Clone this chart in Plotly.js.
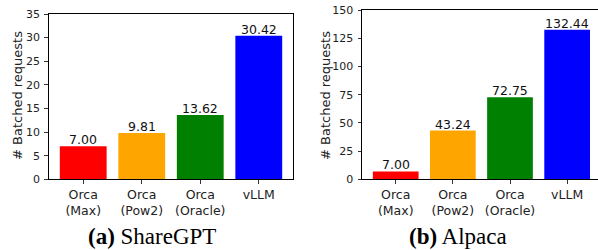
<!DOCTYPE html>
<html><head><meta charset="utf-8">
<script src="https://cdn.plot.ly/plotly-3.0.1.min.js"></script>
<style>html,body{margin:0;padding:0;background:#fff;}</style>
</head><body>
<div id="chart" style="width:598px;height:250px;"></div>
<script>
const categories = ["Orca<br>(Max)", "Orca<br>(Pow2)", "Orca<br>(Oracle)", "vLLM"];
const barColors = ["#ff0000", "#ffa500", "#008000", "#0000ff"];
const shareGPT = [7.00, 9.81, 13.62, 30.42];
const alpaca = [7.00, 43.24, 72.75, 132.44];
const leftTicks = [0, 5, 10, 15, 20, 25, 30, 35];
const rightTicks = [0, 25, 50, 75, 100, 125, 150];
const captions = ["<b>(a)</b> ShareGPT", "<b>(b)</b> Alpaca"];
const yTitle = "# Batched requests";

const font = "DejaVu Sans";
function bars(vals, xa, ya) {
  return {
    type: "bar", x: [0,1,2,3], y: vals, width: 0.8,
    marker: {color: barColors, line: {width: 0}},
    xaxis: xa, yaxis: ya, hoverinfo: "none"
  };
}
function labels(vals, xa, ya) {
  return vals.map((v, i) => ({
    text: v.toFixed(2), x: i, y: v, xref: xa, yref: ya, xanchor: "center", yanchor: "bottom",
    yshift: -3, showarrow: false, font: {family: font, size: 12.5, color: "#111"}
  }));
}
function xax(domain, range) {
  return {domain: domain, range: range, tickmode: "array", tickvals: [0,1,2,3], ticktext: categories,
    ticks: "outside", ticklen: 3.5, tickwidth: 0.8, tickcolor: "#000",
    showline: true, linecolor: "#000", linewidth: 1, mirror: true, showgrid: false, zeroline: false,
    tickfont: {family: font, size: 12.5, color: "#222"}, fixedrange: true};
}
function yax(domain, range, ticks, anchor) {
  return {domain: domain, range: range, tickmode: "array", tickvals: ticks, ticktext: ticks.map(String),
    ticks: "outside", ticklen: 3.5, tickwidth: 0.8, tickcolor: "#000", ticklabelstandoff: 2,
    showline: true, linecolor: "#000", linewidth: 1, mirror: true, showgrid: false, zeroline: false,
    tickfont: {family: font, size: 11, color: "#222"}, anchor: anchor, fixedrange: true};
}
const yb = (250 - 179.3) / 250;
const layout = {
  width: 598, height: 250, margin: {l: 0, r: 0, t: 0, b: 0},
  paper_bgcolor: "#fff", plot_bgcolor: "#fff", showlegend: false,
  xaxis: xax([48.7/598, 293.3/598], [-0.59, 3.59]),
  yaxis: yax([yb, (250-14)/250], [0, 35], leftTicks, "x"),
  xaxis2: Object.assign(xax([362/598, 1], [-0.59, 3.54]), {anchor: "y2"}),
  yaxis2: yax([yb, (250-10)/250], [0, 150], rightTicks, "x2"),
  annotations: [
    {text: yTitle, textangle: -90, xref: "paper", yref: "paper", x: 17/598, y: (250-96)/250,
     xanchor: "center", yanchor: "middle", showarrow: false, font: {family: font, size: 13, color: "#222"}},
    {text: yTitle, textangle: -90, xref: "paper", yref: "paper", x: 325/598, y: (250-96)/250,
     xanchor: "center", yanchor: "middle", showarrow: false, font: {family: font, size: 13, color: "#222"}},
    {text: captions[0], xref: "paper", yref: "paper", x: 151.5/598, y: (250-236)/250,
     xanchor: "center", yanchor: "middle", showarrow: false, font: {family: "Liberation Serif", size: 23, color: "#000"}},
    {text: captions[1], xref: "paper", yref: "paper", x: 458/598, y: (250-236)/250,
     xanchor: "center", yanchor: "middle", showarrow: false, font: {family: "Liberation Serif", size: 23, color: "#000"}}
  ].concat(labels(shareGPT, "x", "y"), labels(alpaca, "x2", "y2"))
};
Plotly.newPlot("chart", [bars(shareGPT, "x", "y"), bars(alpaca, "x2", "y2")], layout, {staticPlot: true, displayModeBar: false});
</script>
</body></html>
